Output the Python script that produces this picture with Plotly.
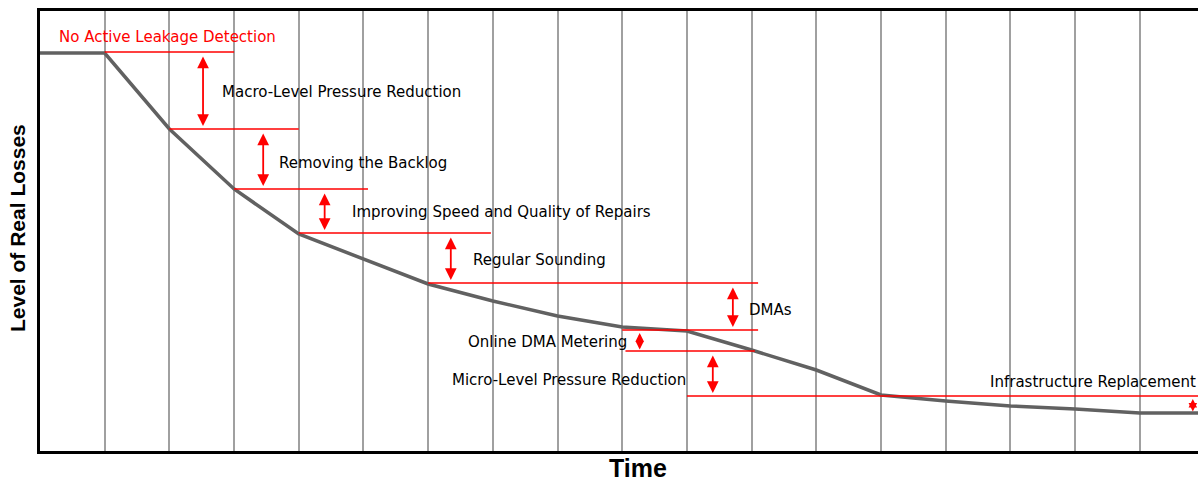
import plotly.graph_objects as go

# ---- data (time index, level of real losses) ----
time_idx = [0, 1, 2, 3, 4, 5, 6, 7, 8, 9, 10, 11, 12, 13, 14, 15, 16, 17, 17.9]
losses = [398, 398, 322, 262, 217, 192, 167, 150, 135, 124, 120, 101, 81, 56, 50, 45, 42, 38, 38]

steps = ["No Active Leakage Detection", "Macro-Level Pressure Reduction", "Removing the Backlog",
         "Improving Speed and Quality of Repairs", "Regular Sounding", "DMAs",
         "Online DMA Metering", "Micro-Level Pressure Reduction", "Infrastructure Replacement"]
# boundary levels between successive measures
levels = [399, 322, 262, 218, 168, 121, 100, 55, 38]
line_start = [1, 2, 3, 4, 6, 9, 9.05, 10]
line_end = [3, 4, 5.07, 6.97, 11.1, 11.1, 11.05, 17.9]
arrow_x = [2.52, 3.45, 4.4, 6.35, 10.71, 9.27, 10.4, 17.82]
label_x = [0.26, 2.78, 3.66, 4.79, 6.66, 10.93, 6.58, 6.34, 14.65]
label_y = [414, 359, 288, 239, 191, 141, 109, 71, 69]

grid_ticks = list(range(1, 18))

fig = go.Figure()

fig.add_trace(go.Scatter(x=time_idx, y=losses, mode="lines",
                         line=dict(color="#616161", width=3.5), hoverinfo="skip"))

lx, ly = [], []
for s, e, lv in zip(line_start, line_end, levels[:8]):
    lx += [s, e, None]
    ly += [lv, lv, None]
fig.add_trace(go.Scatter(x=lx, y=ly, mode="lines", line=dict(color="#ff0000", width=1.5),
                         hoverinfo="skip"))

FONT = "DejaVu Sans"
ann = []
for k in range(1, 9):
    span = levels[k - 1] - levels[k]
    small = span < 25
    gap = 1.5 if small else 3
    size = 0.95 if small else 1.3
    top = levels[k - 1] - gap
    bot = levels[k] + gap
    ann.append(dict(x=arrow_x[k - 1], y=bot, ax=arrow_x[k - 1], ay=top, xref="x", yref="y",
                    axref="x", ayref="y", showarrow=True, arrowhead=2, startarrowhead=2,
                    arrowside="end+start", arrowsize=size, startarrowsize=size, arrowwidth=1.8,
                    arrowcolor="#ff0000", text=""))
for i, t in enumerate(steps):
    ann.append(dict(x=label_x[i], y=label_y[i], xref="x", yref="y", text=t, showarrow=False,
                    xanchor="left", yanchor="middle",
                    font=dict(family=FONT, size=15, color="#ff0000" if i == 0 else "#000000")))

ann.append(dict(text="<b>Time</b>", x=9.24, xref="x", y=0, yref="paper", yanchor="top",
                yshift=-1, showarrow=False,
                font=dict(family="Liberation Sans", size=25, color="#000000")))
ann.append(dict(text="<b>Level of Real Losses</b>", x=0, xref="paper", xanchor="center",
                xshift=-23, y=223, yref="y", textangle=-90, showarrow=False,
                font=dict(family="Liberation Sans", size=21, color="#000000")))

fig.update_layout(
    width=1198, height=482,
    margin=dict(l=40, r=0, t=11, b=31),
    paper_bgcolor="white", plot_bgcolor="white",
    showlegend=False,
    annotations=ann,
    xaxis=dict(range=[0, 17.9], tickvals=grid_ticks, showticklabels=False, ticks="",
               showgrid=True, gridcolor="#a0a0a0", gridwidth=2, zeroline=False,
               showline=True, linecolor="#000000", linewidth=3, mirror=True, fixedrange=True),
    yaxis=dict(range=[0, 440], showticklabels=False, ticks="", showgrid=False, zeroline=False,
               showline=True, linecolor="#000000", linewidth=3, fixedrange=True),
)

fig.write_html("out.html", config={"displayModeBar": False},
               post_script="document.body.style.margin='0px';")
